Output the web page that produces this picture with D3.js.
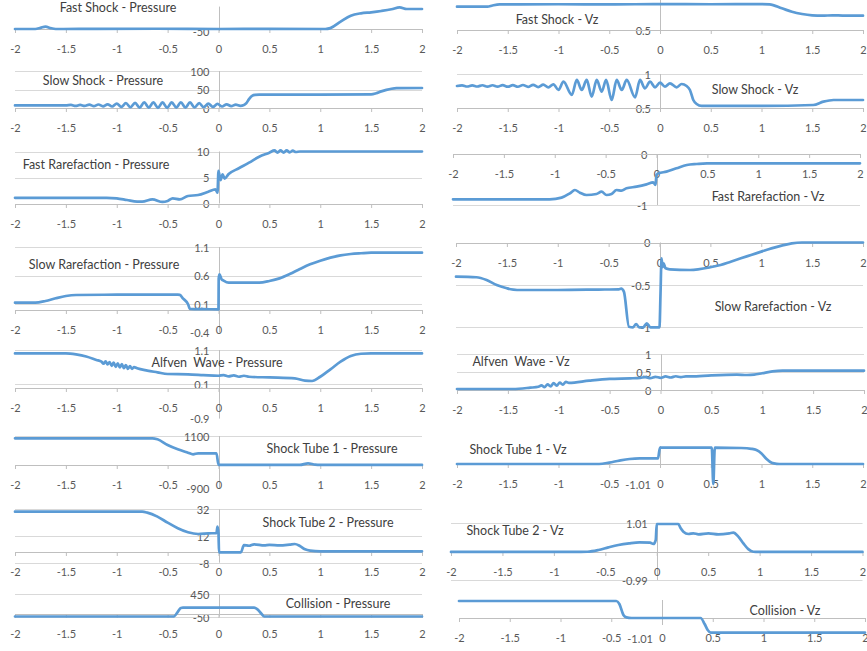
<!DOCTYPE html>
<html>
<head>
<meta charset="utf-8">
<script src="https://cdn.jsdelivr.net/npm/d3@7"></script>
<style>
  body { margin: 0; background: #fff; }
  svg { display: block; }
</style>
</head>
<body>
<svg id="chart" width="867" height="651"></svg>
<script>
// ---- shared x ticks ----
const xTicks = [-2, -1.5, -1, -0.5, 0, 0.5, 1, 1.5, 2];

// ---- pressure profiles (left column) ----
const fastShockPressure = [[-2,0],[-1.8,0],[-1.75,25],[-1.7,55],[-1.65,20],[-1.6,0],[-1.2,5],[-0.6,6],[0,0],[0.5,4],[1.05,0],[1.1,20],[1.2,165],[1.3,297],[1.4,350],[1.5,373],[1.6,402],[1.7,440],[1.78,484],[1.85,446],[2,446]];

const slowShockPressure = [[-2,7],[-1.5,7],[-1.45,8.5],[-1.405,5.5],[-1.36,8.5],[-1.315,5.5],[-1.27,9],[-1.225,5],[-1.18,9.5],[-1.135,4.5],[-1.09,10],[-1.045,4],[-1.0,12],[-0.955,3],[-0.91,13],[-0.865,2],[-0.82,14],[-0.775,1],[-0.73,15],[-0.685,1],[-0.64,15],[-0.595,0.5],[-0.55,15.5],[-0.505,0.5],[-0.46,15.5],[-0.415,1],[-0.37,15],[-0.325,1],[-0.28,15],[-0.235,1.5],[-0.19,13],[-0.145,2],[-0.1,12],[-0.055,3],[-0.01,11],[0.035,4],[0.08,10],[0.125,5],[0.17,9],[0.215,6],[0.25,8],[0.27,12],[0.3,24],[0.33,33],[0.36,35.5],[0.4,36],[1.0,36],[1.5,37],[1.55,40],[1.6,45],[1.65,49],[1.7,52],[1.75,53.5],[2,54]];

const fastRarefactionPressure = [[-2,1.1],[-1.1,1.1],[-1.0,1.0],[-0.9,0.67],[-0.8,0.35],[-0.75,0.35],[-0.65,0.8],[-0.55,0.3],[-0.5,0.5],[-0.45,1.0],[-0.38,0.8],[-0.3,1.44],[-0.2,1.63],[-0.1,2.27],[-0.03,2.72],[-0.01,2.08],[0,6.3],[0.02,4.5],[0.04,5.6],[0.06,4.8],[0.1,5.67],[0.2,6.77],[0.3,7.85],[0.4,9.0],[0.5,9.77],[0.55,10.2],[0.58,9.8],[0.61,10.2],[0.64,9.8],[0.67,10.2],[0.7,9.85],[0.73,10.15],[0.76,9.9],[0.8,10],[2,10]];

const slowRarefactionPressure = [[-2,0.123],[-1.8,0.123],[-1.7,0.153],[-1.6,0.2],[-1.5,0.24],[-1.4,0.258],[-1.0,0.263],[-0.4,0.263],[-0.38,0.26],[-0.35,0.2],[-0.3,0.1],[-0.28,0.012],[-0.15,0.01],[0,0.005],[0.002,0.55],[0.01,0.62],[0.03,0.535],[0.05,0.51],[0.1,0.474],[0.4,0.474],[0.5,0.503],[0.6,0.55],[0.7,0.626],[0.8,0.714],[0.9,0.796],[1.0,0.86],[1.1,0.913],[1.2,0.954],[1.3,0.977],[1.4,0.99],[1.5,1.0],[2,1.0]];

const alfvenPressure = [[-2,1.0],[-1.5,1.0],[-1.4,0.97],[-1.3,0.91],[-1.2,0.81],[-1.15,0.76],[-1.13,0.7],[-1.11,0.77],[-1.09,0.68],[-1.07,0.75],[-1.05,0.64],[-1.03,0.73],[-1.01,0.61],[-0.99,0.71],[-0.97,0.59],[-0.95,0.69],[-0.93,0.57],[-0.91,0.66],[-0.89,0.55],[-0.87,0.63],[-0.85,0.55],[-0.83,0.6],[-0.8,0.566],[-0.7,0.5],[-0.6,0.45],[-0.5,0.4],[-0.3,0.39],[-0.15,0.37],[0,0.35],[0.05,0.37],[0.1,0.33],[0.15,0.36],[0.2,0.32],[0.25,0.35],[0.3,0.32],[0.5,0.3],[0.75,0.275],[0.85,0.205],[0.92,0.196],[1.0,0.32],[1.1,0.537],[1.2,0.76],[1.3,0.925],[1.4,0.99],[1.5,1.0],[2,1.0]];

const shockTube1Pressure = [[-2,1012],[-0.65,1012],[-0.6,974],[-0.5,757],[-0.4,592],[-0.3,465],[-0.25,403],[-0.2,441],[-0.02,441],[0,0],[0.8,0],[0.88,60],[0.95,10],[1,0],[2,0]];

const shockTube2Pressure = [[-2,30.2],[-0.75,30.2],[-0.7,29.5],[-0.6,26.5],[-0.5,22],[-0.4,17.8],[-0.3,14.8],[-0.2,13.5],[-0.1,14],[-0.02,14.2],[-0.01,19],[0,14],[0.005,-0.3],[0.22,-0.3],[0.25,5.2],[0.3,4.7],[0.35,5.8],[0.45,5.0],[0.5,5.3],[0.6,5.0],[0.7,5.6],[0.75,6],[0.8,4.5],[0.85,2],[0.9,1],[1.0,0.5],[2,0.5]];

const collisionPressure = [[-2,-45],[-0.44,-45],[-0.4,60],[-0.37,145],[-0.35,151],[0.35,151],[0.38,120],[0.42,20],[0.45,-45],[2,-45]];

// ---- Vz profiles (right column) ----
const fastShockVz = [[-2,0.833],[-1.7,0.833],[-1.65,0.85],[-1.58,0.865],[-1.0,0.868],[-0.5,0.866],[0,0.87],[0.5,0.868],[1.0,0.87],[1.08,0.866],[1.2,0.81],[1.3,0.761],[1.4,0.729],[1.5,0.71],[1.6,0.704],[1.7,0.71],[1.8,0.706],[2,0.704]];

const slowShockVz = [[-2,0.825],[-1.95,0.835],[-1.9,0.818],[-1.85,0.835],[-1.8,0.818],[-1.75,0.836],[-1.7,0.816],[-1.65,0.836],[-1.6,0.816],[-1.55,0.838],[-1.5,0.815],[-1.45,0.838],[-1.4,0.814],[-1.35,0.84],[-1.3,0.812],[-1.25,0.842],[-1.2,0.81],[-1.15,0.845],[-1.1,0.805],[-1.05,0.85],[-1.0,0.767],[-0.951,0.888],[-0.869,0.694],[-0.82,0.913],[-0.771,0.767],[-0.722,0.913],[-0.673,0.67],[-0.623,0.913],[-0.574,0.743],[-0.531,0.913],[-0.476,0.621],[-0.427,0.913],[-0.377,0.767],[-0.328,0.913],[-0.246,0.66],[-0.197,0.913],[-0.148,0.791],[-0.098,0.888],[-0.049,0.806],[0,0.873],[0.049,0.815],[0.098,0.864],[0.164,0.806],[0.213,0.854],[0.262,0.825],[0.295,0.767],[0.328,0.621],[0.361,0.563],[0.41,0.534],[1.0,0.534],[1.51,0.548],[1.61,0.597],[1.71,0.621],[2,0.621]];

const fastRarefactionVz = [[-2,-0.889],[-1.05,-0.889],[-0.933,-0.856],[-0.851,-0.771],[-0.802,-0.706],[-0.753,-0.758],[-0.688,-0.804],[-0.59,-0.784],[-0.54,-0.739],[-0.491,-0.804],[-0.442,-0.784],[-0.393,-0.706],[-0.344,-0.719],[-0.295,-0.673],[-0.196,-0.641],[-0.098,-0.595],[-0.033,-0.556],[-0.01,-0.608],[0,-0.412],[0.02,-0.379],[0.098,-0.346],[0.196,-0.281],[0.298,-0.216],[0.396,-0.196],[0.497,-0.183],[2,-0.183]];

const slowRarefactionVz = [[-2,-0.403],[-1.8,-0.41],[-1.7,-0.442],[-1.6,-0.501],[-1.5,-0.54],[-1.4,-0.56],[-1.0,-0.56],[-0.6,-0.555],[-0.4,-0.552],[-0.377,-0.545],[-0.35,-0.58],[-0.3,-0.993],[-0.26,-1.0],[-0.23,-0.961],[-0.2,-1.0],[-0.16,-1.0],[-0.125,-0.953],[-0.09,-1.0],[0,-1.0],[0.01,-0.6],[0.02,-0.186],[0.03,-0.29],[0.04,-0.245],[0.06,-0.304],[0.1,-0.316],[0.3,-0.324],[0.5,-0.292],[0.6,-0.265],[0.7,-0.226],[0.8,-0.186],[0.9,-0.147],[1.0,-0.108],[1.1,-0.069],[1.2,-0.037],[1.3,-0.01],[1.4,0],[2,0]];

const alfvenVz = [[-2,0.028],[-1.45,0.028],[-1.28,0.065],[-1.2,0.09],[-1.17,0.13],[-1.14,0.08],[-1.11,0.16],[-1.08,0.1],[-1.05,0.19],[-1.02,0.12],[-0.99,0.21],[-0.96,0.15],[-0.93,0.23],[-0.9,0.2],[-0.7,0.261],[-0.5,0.31],[-0.3,0.327],[-0.2,0.34],[-0.15,0.36],[-0.1,0.33],[-0.05,0.37],[0,0.34],[0.05,0.38],[0.1,0.35],[0.15,0.385],[0.2,0.36],[0.25,0.38],[0.3,0.38],[0.5,0.41],[0.75,0.43],[0.85,0.42],[0.92,0.43],[1.0,0.47],[1.1,0.52],[1.2,0.541],[2,0.541]];

const shockTube1Vz = [[-2,0],[-0.6,0],[-0.5,0.07],[-0.4,0.17],[-0.3,0.25],[-0.2,0.28],[-0.02,0.28],[0,0.82],[0.51,0.82],[0.525,-1.01],[0.54,0.82],[0.8,0.8],[0.9,0.76],[0.95,0.7],[1.0,0.53],[1.05,0.25],[1.1,0.06],[1.15,0.01],[1.2,0],[2,0]];

const shockTube2Vz = [[-2,0],[-0.8,0],[-0.674,0.007],[-0.567,0.067],[-0.47,0.16],[-0.373,0.243],[-0.269,0.302],[-0.168,0.338],[-0.065,0.326],[-0.032,0.28],[-0.01,0.42],[0,0.985],[0.21,0.985],[0.233,0.833],[0.259,0.714],[0.308,0.633],[0.356,0.657],[0.405,0.622],[0.502,0.657],[0.599,0.622],[0.706,0.657],[0.745,0.68],[0.793,0.538],[0.842,0.302],[0.89,0.1],[0.939,0.007],[0.988,0],[2,0]];

const collisionVz = [[-2,0.85],[-0.45,0.85],[-0.42,0.7],[-0.38,0.15],[-0.35,0.03],[-0.3,0],[0.38,0],[0.42,-0.3],[0.45,-0.6],[0.48,-0.73],[2,-0.73]];

// ---- panel content: title, series, gridline values, y-axis labels ----
const panels = [
  { title: "Fast Shock - Pressure",        series: fastShockPressure,        grid: [],             yLabels: [-50] },
  { title: "Slow Shock - Pressure",        series: slowShockPressure,        grid: [50, 100],      yLabels: [0, 50, 100] },
  { title: "Fast Rarefaction - Pressure",  series: fastRarefactionPressure,  grid: [5, 10],        yLabels: [0, 5, 10] },
  { title: "Slow Rarefaction - Pressure",  series: slowRarefactionPressure,  grid: [0.1, 0.6, 1.1],yLabels: [-0.4, 0.1, 0.6, 1.1] },
  { title: "Alfven  Wave - Pressure",      series: alfvenPressure,           grid: [0.1, 1.1],     yLabels: [-0.9, 0.1, 1.1] },
  { title: "Shock Tube 1 - Pressure",      series: shockTube1Pressure,       grid: [1100],         yLabels: [-900, 1100] },
  { title: "Shock Tube 2 - Pressure",      series: shockTube2Pressure,       grid: [-8, 12, 32],   yLabels: [-8, 12, 32] },
  { title: "Collision - Pressure",         series: collisionPressure,        grid: [-50, 450],     yLabels: [-50, 450] },
  { title: "Fast Shock - Vz",              series: fastShockVz,              grid: [],             yLabels: [0.5] },
  { title: "Slow Shock - Vz",              series: slowShockVz,              grid: [1],            yLabels: [0.5, 1] },
  { title: "Fast Rarefaction - Vz",        series: fastRarefactionVz,        grid: [-1, 0],        yLabels: [-1, 0] },
  { title: "Slow Rarefaction - Vz",        series: slowRarefactionVz,        grid: [-1, -0.5, 0],  yLabels: [-1, -0.5, 0] },
  { title: "Alfven  Wave - Vz",            series: alfvenVz,                 grid: [0.5, 1],       yLabels: [0, 0.5, 1] },
  { title: "Shock Tube 1 - Vz",            series: shockTube1Vz,             grid: [],             yLabels: [-1.01] },
  { title: "Shock Tube 2 - Vz",            series: shockTube2Vz,             grid: [-0.99, 1.01],  yLabels: [-0.99, 1.01] },
  { title: "Collision - Vz",               series: collisionVz,              grid: [],             yLabels: [-1.01] }
];

// ---- placement of each small chart on the page ----
// xRange: pixels of x=-2 and x=2; yAnchor: [value, px, value, px];
// ySpan: extent of the vertical axis line; axisAt: value where the x axis crosses
const layout = [
  { xRange: [15, 422],  yAnchor: [0, 29, 500, 6.6],         ySpan: [-50, 500],   axisAt: 0,   titleAt: [118, 8] },
  { xRange: [15, 422],  yAnchor: [0, 108, 100, 71],         ySpan: [0, 100],     axisAt: 0,   titleAt: [103, 81] },
  { xRange: [15, 422],  yAnchor: [0, 203.5, 10, 151.5],     ySpan: [0, 10],      axisAt: 0,   titleAt: [96, 165] },
  { xRange: [15, 422],  yAnchor: [0.1, 304, 1.1, 247],      ySpan: [-0.4, 1.1],  axisAt: 0,   titleAt: [104, 265] },
  { xRange: [15, 422],  yAnchor: [0.1, 384.3, 1.1, 350],    ySpan: [-0.9, 1.1],  axisAt: 0,   titleAt: [217, 362.5] },
  { xRange: [15, 422],  yAnchor: [1100, 436, -900, 488.5],  ySpan: [-900, 1100], axisAt: 0,   titleAt: [332, 449] },
  { xRange: [15, 422],  yAnchor: [32, 509.3, 12, 536],      ySpan: [-8, 32],     axisAt: 0,   titleAt: [328, 523] },
  { xRange: [15, 422],  yAnchor: [450, 594.3, -50, 616.7],  ySpan: [-50, 450],   axisAt: 0,   titleAt: [338, 604] },
  { xRange: [457, 863], yAnchor: [0.5, 30, 1, -5],          ySpan: [0.5, 1],     axisAt: 0.5, titleAt: [557, 20] },
  { xRange: [457, 863], yAnchor: [1, 74, 0.5, 108.3],       ySpan: [0.5, 1],     axisAt: 0.5, titleAt: [755, 90] },
  { xRange: [453, 860], yAnchor: [0, 154, -1, 205],         ySpan: [-1, 0],      axisAt: 0,   titleAt: [768, 196.5] },
  { xRange: [456, 863], yAnchor: [0, 242.5, -1, 327.3],     ySpan: [-1, 0],      axisAt: 0,   titleAt: [773, 307] },
  { xRange: [457, 864], yAnchor: [1, 354.3, 0, 390],        ySpan: [0, 1],       axisAt: 0,   titleAt: [521, 361.5] },
  { xRange: [457, 863], yAnchor: [0, 464, -1.01, 484.2],    ySpan: [0, 0.9],     axisAt: 0,   titleAt: [518, 450] },
  { xRange: [451, 862.5], yAnchor: [1.01, 523.3, -0.99, 580], ySpan: [-0.99, 1.01], axisAt: 0, titleAt: [515, 531] },
  { xRange: [459, 865], yAnchor: [0, 618, -1.01, 638.2],    ySpan: [-0.35, 0.9], axisAt: 0,   titleAt: [785, 611] }
];

const FONT = "Lato, 'Open Sans', 'Liberation Sans', sans-serif";
const LINE_COLOR = "#5b9bd5";
const GRID_COLOR = "#d9d9d9";
const AXIS_COLOR = "#bfbfbf";
const TEXT_COLOR = "#595959";

const svg = d3.select("#chart");

panels.forEach((p, i) => {
  const L = layout[i];
  const x = d3.scaleLinear().domain([-2, 2]).range(L.xRange);
  const y = d3.scaleLinear().domain([L.yAnchor[0], L.yAnchor[2]]).range([L.yAnchor[1], L.yAnchor[3]]);
  const g = svg.append("g").attr("class", "panel");

  // horizontal gridlines
  g.selectAll("line.grid").data(p.grid).join("line")
    .attr("class", "grid")
    .attr("x1", x(-2)).attr("x2", x(2))
    .attr("y1", d => Math.round(y(d)) + 0.5).attr("y2", d => Math.round(y(d)) + 0.5)
    .attr("stroke", GRID_COLOR).attr("stroke-width", 1);

  // vertical axis line at x = 0
  g.append("line")
    .attr("x1", Math.round(x(0)) + 0.5).attr("x2", Math.round(x(0)) + 0.5)
    .attr("y1", y(L.ySpan[0])).attr("y2", y(L.ySpan[1]))
    .attr("stroke", AXIS_COLOR).attr("stroke-width", 1);

  // y labels, left of the vertical axis
  g.selectAll("text.ylab").data(p.yLabels).join("text")
    .attr("class", "ylab")
    .attr("x", x(0) - 9)
    .attr("y", d => y(d) + 1)
    .attr("dy", "0.35em")
    .attr("text-anchor", "end")
    .attr("font-family", FONT).attr("font-size", 11)
    .attr("fill", TEXT_COLOR)
    .text(d => String(d));

  // x axis
  const ax = g.append("g")
    .attr("transform", `translate(0,${Math.round(y(L.axisAt))})`)
    .call(d3.axisBottom(x).tickValues(xTicks).tickFormat(d => String(d))
      .tickSize(4).tickSizeOuter(0).tickPadding(12))
    .attr("font-family", FONT).attr("font-size", 11);
  ax.select(".domain").attr("stroke", AXIS_COLOR);
  ax.selectAll(".tick line").attr("stroke", AXIS_COLOR);
  ax.selectAll(".tick text").attr("fill", TEXT_COLOR);

  // panel title
  g.append("text")
    .attr("x", L.titleAt[0]).attr("y", L.titleAt[1])
    .attr("dy", "0.35em")
    .attr("text-anchor", "middle")
    .attr("font-family", FONT).attr("font-size", 12.5)
    .attr("fill", "#404040")
    .style("white-space", "pre")
    .text(p.title);

  // data curve
  g.append("path")
    .datum(p.series)
    .attr("fill", "none")
    .attr("stroke", LINE_COLOR)
    .attr("stroke-width", 2.7)
    .attr("stroke-linejoin", "round")
    .attr("stroke-linecap", "round")
    .attr("d", d3.line().curve(d3.curveMonotoneX).x(d => x(d[0])).y(d => y(d[1])));
});
</script>
</body>
</html>
